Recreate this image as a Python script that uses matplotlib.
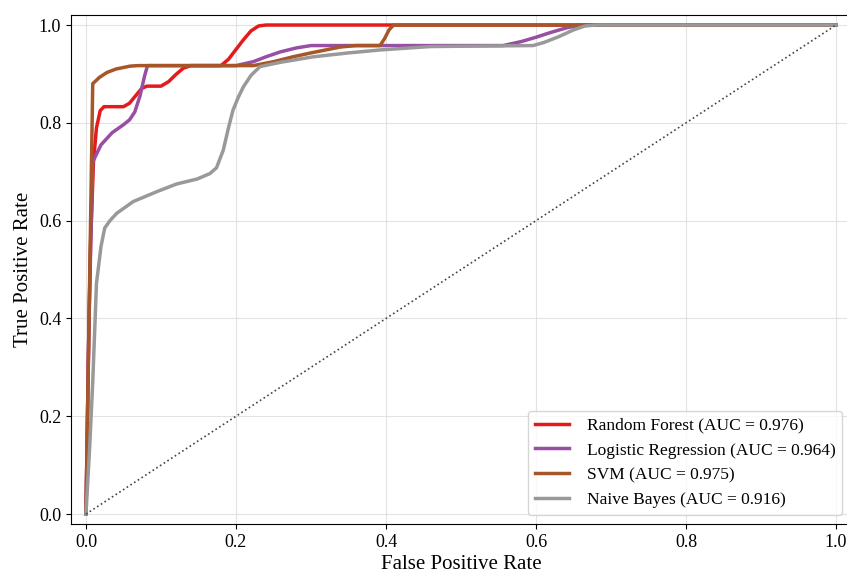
import matplotlib
matplotlib.use("Agg")
import matplotlib.pyplot as plt

plt.rcParams['font.family'] = ['Liberation Serif', 'DejaVu Serif']

# DATA

rf_fpr = [0.0, 0.003, 0.006, 0.010, 0.014, 0.019, 0.024, 0.050, 0.058, 0.066, 0.074, 0.081,
          0.100, 0.110, 0.120, 0.130, 0.140, 0.180, 0.190, 0.200, 0.210, 0.220, 0.230, 0.240, 1.0]
rf_tpr = [0.0, 0.30, 0.55, 0.72, 0.79, 0.825, 0.833, 0.833, 0.840, 0.855, 0.870, 0.875,
          0.875, 0.884, 0.899, 0.912, 0.917, 0.917, 0.930, 0.950, 0.970, 0.988, 0.998, 1.0, 1.0]

lr_fpr = [0.0, 0.004, 0.009, 0.020, 0.035, 0.049, 0.058, 0.065, 0.072, 0.078, 0.082,
          0.180, 0.200, 0.223, 0.240, 0.259, 0.280, 0.300, 0.556, 0.580, 0.600, 0.620, 0.640, 0.660, 1.0]
lr_tpr = [0.0, 0.40, 0.72, 0.755, 0.780, 0.795, 0.806, 0.822, 0.855, 0.895, 0.917,
          0.917, 0.917, 0.925, 0.935, 0.945, 0.953, 0.958, 0.958, 0.966, 0.975, 0.985, 0.994, 1.0, 1.0]

svm_fpr = [0.0, 0.009, 0.018, 0.028, 0.040, 0.059, 0.070, 0.223, 0.250, 0.276, 0.300, 0.339,
           0.360, 0.392, 0.398, 0.404, 0.410, 1.0]
svm_tpr = [0.0, 0.880, 0.893, 0.903, 0.910, 0.916, 0.917, 0.917, 0.925, 0.935, 0.943, 0.955,
           0.958, 0.958, 0.972, 0.990, 1.0, 1.0]

nb_fpr = [0.0, 0.005, 0.009, 0.014, 0.020, 0.025, 0.032, 0.041, 0.063, 0.094, 0.121, 0.148,
          0.165, 0.174, 0.183, 0.190, 0.196, 0.203, 0.210, 0.220, 0.232, 0.260, 0.303, 0.350,
          0.392, 0.459, 0.596, 0.610, 0.630, 0.650, 0.665, 0.680, 1.0]
nb_tpr = [0.0, 0.14, 0.27, 0.472, 0.547, 0.585, 0.600, 0.615, 0.639, 0.659, 0.675, 0.685,
          0.696, 0.708, 0.744, 0.790, 0.826, 0.852, 0.874, 0.897, 0.915, 0.924, 0.935, 0.943,
          0.949, 0.956, 0.958, 0.964, 0.976, 0.990, 0.998, 1.0, 1.0]

models = ["Random Forest", "Logistic Regression", "SVM", "Naive Bayes"]
aucs = [0.976, 0.964, 0.975, 0.916]
colors = ["#e41a1c", "#984ea3", "#a65628", "#999999"]

# PLOT

fig = plt.figure(figsize=(8.47, 5.75), dpi=100)
ax = fig.add_axes([0.0838, 0.089, 0.921, 0.8845])

curves = [(rf_fpr, rf_tpr), (lr_fpr, lr_tpr), (svm_fpr, svm_tpr), (nb_fpr, nb_tpr)]
for (fpr, tpr), name, auc, c in zip(curves, models, aucs, colors):
    ax.plot(fpr, tpr, color=c, lw=2.5, label=f"{name} (AUC = {auc:.3f})")

ax.plot([0, 1], [0, 1], color="#444444", lw=1.2, linestyle=":")

ax.set_xlim(-0.02, 1.02)
ax.set_ylim(-0.02, 1.02)
ax.set_xticks([0.0, 0.2, 0.4, 0.6, 0.8, 1.0])
ax.set_yticks([0.0, 0.2, 0.4, 0.6, 0.8, 1.0])
ax.tick_params(labelsize=13)
ax.grid(True, color="#dddddd", lw=0.8, alpha=0.8)
ax.set_xlabel("False Positive Rate", fontsize=15, labelpad=3)
ax.set_ylabel("True Positive Rate", fontsize=15)
ax.legend(loc="lower right", fontsize=12.5, frameon=True, handletextpad=1.0)

fig.savefig("out.png", dpi=100)
